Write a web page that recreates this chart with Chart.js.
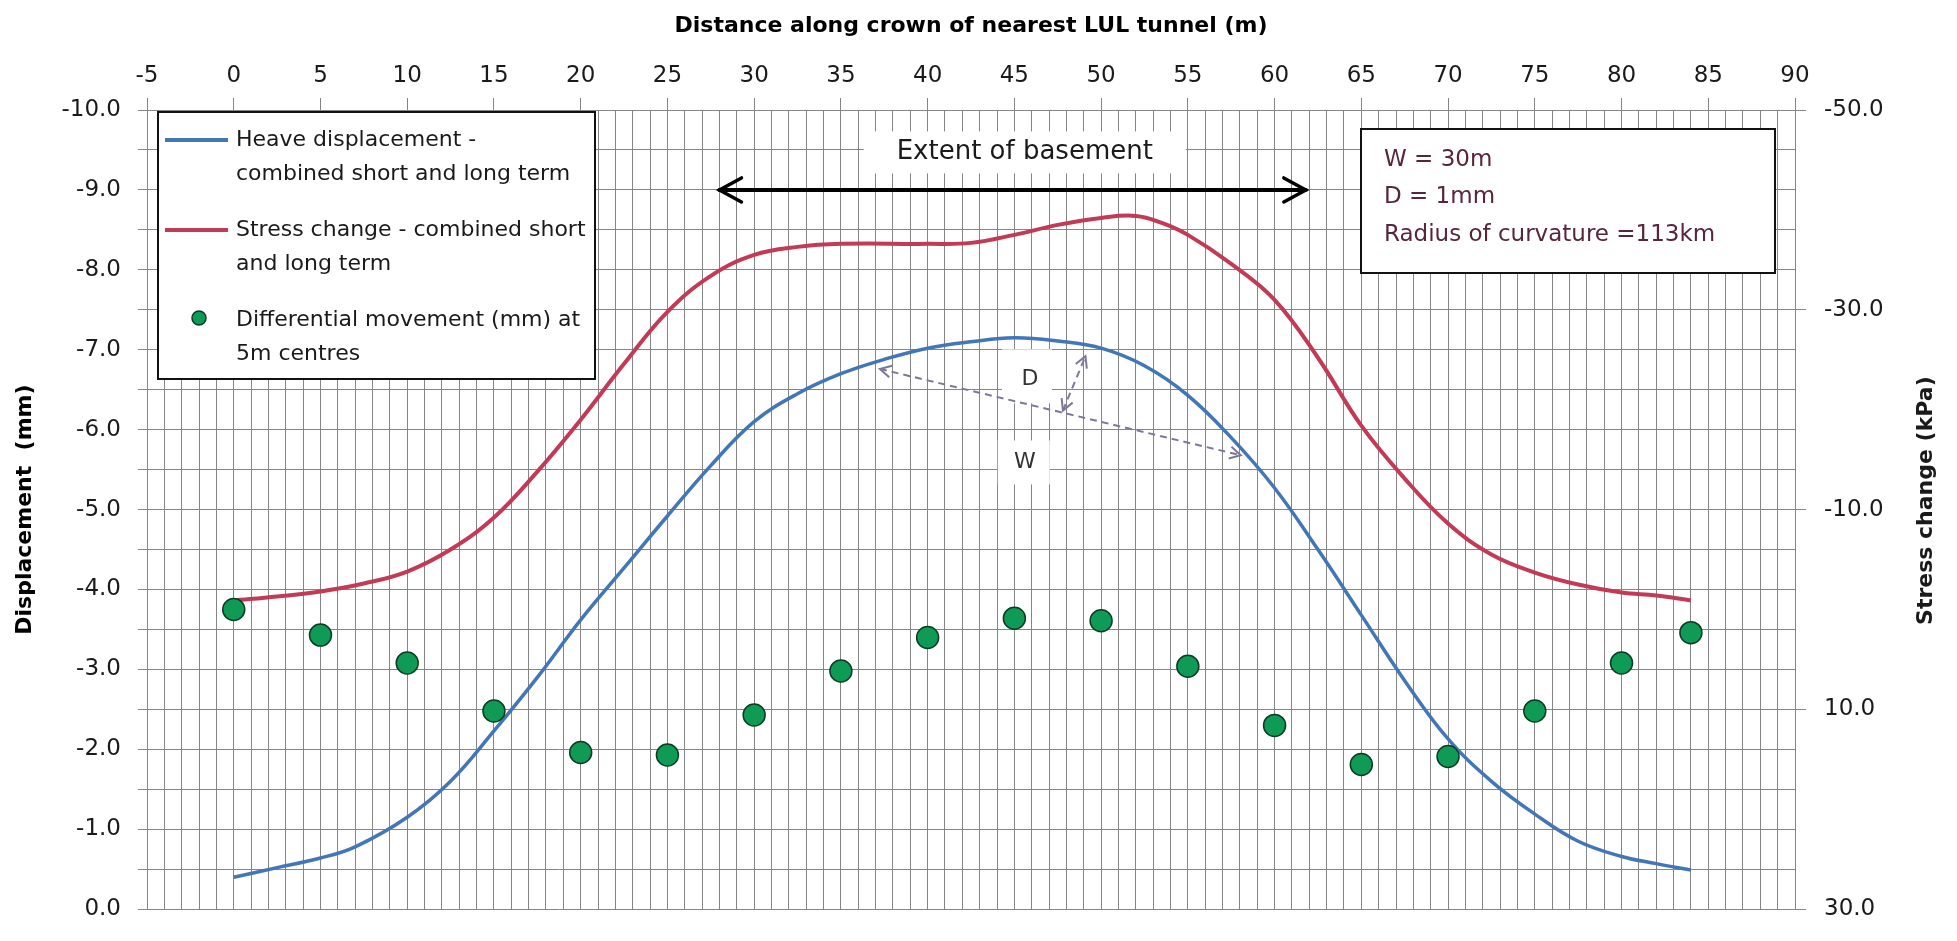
<!DOCTYPE html>
<html>
<head>
<meta charset="utf-8">
<script src="https://cdn.jsdelivr.net/npm/chart.js@4.4.1/dist/chart.umd.min.js"></script>
<style>
html,body{margin:0;padding:0;background:#ffffff;}
#wrap{width:1957px;height:941px;position:relative;}
canvas{display:block;}
</style>
</head>
<body>
<div id="wrap"><canvas id="c" width="1957" height="941"></canvas></div>
<script>
// ---------------- DATA ----------------
const heaveX = [0, 2.5, 5, 7, 10, 12.5, 15, 17.5, 20, 22.5, 25, 27.5, 30, 32.5, 35, 37.5, 40, 42.5, 45, 47.5, 50, 52.5, 55, 57.5, 60, 62.5, 65, 67.5, 70, 72.5, 75, 77.5, 80, 82, 84];
const heaveY = [-0.40, -0.52, -0.64, -0.78, -1.15, -1.60, -2.23, -2.90, -3.62, -4.27, -4.92, -5.55, -6.10, -6.45, -6.70, -6.88, -7.02, -7.10, -7.15, -7.11, -7.02, -6.80, -6.43, -5.90, -5.27, -4.50, -3.68, -2.86, -2.13, -1.60, -1.19, -0.85, -0.66, -0.57, -0.49];

const stressX = [0, 2.5, 5, 7.5, 10, 12.5, 15, 17.5, 20, 22.5, 25, 27.5, 30, 32.5, 35, 40, 42.5, 45, 47.5, 50, 52, 53.5, 55, 57.5, 60, 62.5, 65, 67.5, 70, 72.5, 75, 77.5, 80, 82, 84];
const stressY = [-0.9, -1.3, -1.8, -2.6, -3.8, -6.0, -9.2, -13.8, -19.0, -24.6, -29.8, -33.4, -35.5, -36.3, -36.6, -36.6, -36.7, -37.5, -38.5, -39.2, -39.4, -38.7, -37.5, -34.6, -31.0, -25.2, -18.4, -13.1, -8.6, -5.5, -3.7, -2.5, -1.7, -1.4, -0.9];

const diffX = [0, 5, 10, 15, 20, 25, 30, 35, 40, 45, 50, 55, 60, 65, 70, 75, 80, 84];
const diffY = [-3.75, -3.43, -3.08, -2.48, -1.96, -1.93, -2.43, -2.98, -3.40, -3.64, -3.61, -3.04, -2.30, -1.81, -1.91, -2.48, -3.08, -3.46];

const seriesLabels = [
  'Heave displacement -\ncombined short and long term',
  'Stress change - combined short\nand long term',
  'Differential movement (mm) at\n5m centres'
];

const xAxisTitle = 'Distance along crown of nearest LUL tunnel (m)';
const yAxisTitle = 'Displacement  (mm)';
const y2AxisTitle = 'Stress change (kPa)';

const xRange = [-5, 90];
const dispRange = [-10, 0];
const stressRange = [-50, 30];
const xLabelEvery = 5;
const dispLabelEvery = 1;
const stressStep = 20;

const infoLines = ['W = 30m', 'D = 1mm', 'Radius of curvature =113km'];
const basementText = 'Extent of basement';

// annotation anchor positions in data units (x, displacement)
const basementArrow = {x1: 28.0, x2: 61.8, y: -9.0};
const basementLabel = {x: 45.6, y: -9.47};
const wArrow = {x1: 37.25, y1: -6.76, x2: 58.05, y2: -5.68};
const dArrow = {x1: 47.8, y1: -6.24, x2: 49.1, y2: -6.92};
const dLabel = {x: 45.9, y: -6.63, text: 'D'};
const wLabel = {x: 45.6, y: -5.59, text: 'W'};

// ---------------- STYLE ----------------
const FONT = "'DejaVu Sans', sans-serif";
const BLUE = '#4276b6';
const RED = '#c23a55';
const GREEN = '#0f9a55';
const GREEN_EDGE = '#0b3d22';
const GRID = '#858585';
const TEXT = '#1a1a1a';
const INFO_TEXT = '#57263c';
const DASH = '#7d7897';

function pts(xs, ys) { return xs.map((x, i) => ({x: x, y: ys[i]})); }

function chevron(ctx, tx, ty, fx, fy, len, half) {
  const a = Math.atan2(ty - fy, tx - fx);
  const bx = tx - len * Math.cos(a), by = ty - len * Math.sin(a);
  const nx = -Math.sin(a) * half, ny = Math.cos(a) * half;
  ctx.beginPath();
  ctx.moveTo(bx + nx, by + ny);
  ctx.lineTo(tx, ty);
  ctx.lineTo(bx - nx, by - ny);
  ctx.stroke();
}

const decorPlugin = {
  id: 'decor',
  afterDatasetsDraw(chart) {
    const ctx = chart.ctx;
    const ca = chart.chartArea;
    const xs = chart.scales.x, ys = chart.scales.y;
    const px = v => xs.getPixelForValue(v);
    const py = v => ys.getPixelForValue(v);
    ctx.save();

    // ---- legend box ----
    const lx = ca.left + 11, ly = ca.top + 2, lw = 437, lh = 267;
    ctx.fillStyle = '#ffffff';
    ctx.fillRect(lx, ly, lw, lh);
    ctx.strokeStyle = '#111111';
    ctx.lineWidth = 2;
    ctx.strokeRect(lx, ly, lw, lh);
    ctx.font = '22px ' + FONT;
    ctx.textBaseline = 'middle';
    ctx.textAlign = 'left';
    const rowY = [ly + 28, ly + 118, ly + 208];
    chart.data.datasets.forEach((ds, i) => {
      const y0 = rowY[i];
      if (ds.showLine) {
        ctx.strokeStyle = ds.borderColor;
        ctx.lineWidth = 4;
        ctx.beginPath();
        ctx.moveTo(lx + 7, y0);
        ctx.lineTo(lx + 70, y0);
        ctx.stroke();
      } else {
        ctx.fillStyle = ds.backgroundColor;
        ctx.strokeStyle = ds.borderColor;
        ctx.lineWidth = 1.5;
        ctx.beginPath();
        ctx.arc(lx + 41, y0 - 2, 7, 0, Math.PI * 2);
        ctx.fill();
        ctx.stroke();
      }
      ctx.fillStyle = TEXT;
      ds.label.split('\n').forEach((t, k) => ctx.fillText(t, lx + 78, y0 + k * 34));
    });

    // ---- info box ----
    const bx = ca.right - 434, by = ca.top + 19, bw = 414, bh = 144;
    ctx.fillStyle = '#ffffff';
    ctx.fillRect(bx, by, bw, bh);
    ctx.strokeStyle = '#111111';
    ctx.lineWidth = 2;
    ctx.strokeRect(bx, by, bw, bh);
    ctx.fillStyle = INFO_TEXT;
    ctx.font = '23px ' + FONT;
    infoLines.forEach((t, k) => ctx.fillText(t, bx + 23, by + 31 + k * 37.5));

    // ---- extent of basement ----
    const ex = px(basementLabel.x), ey = py(basementLabel.y);
    ctx.fillStyle = '#ffffff';
    ctx.fillRect(ex - 161, ey - 21, 322, 42);
    ctx.fillStyle = TEXT;
    ctx.font = '26px ' + FONT;
    ctx.textAlign = 'center';
    ctx.fillText(basementText, ex, ey);
    const ax1 = px(basementArrow.x1), ax2 = px(basementArrow.x2), ay = py(basementArrow.y);
    ctx.strokeStyle = '#000000';
    ctx.lineWidth = 4;
    ctx.lineCap = 'round';
    ctx.beginPath();
    ctx.moveTo(ax1, ay);
    ctx.lineTo(ax2, ay);
    ctx.stroke();
    ctx.lineWidth = 3.5;
    chevron(ctx, ax1, ay, ax2, ay, 22, 12);
    chevron(ctx, ax2, ay, ax1, ay, 22, 12);

    // ---- D / W labels with white backgrounds ----
    const dx = px(dLabel.x), dy = py(dLabel.y);
    ctx.fillStyle = '#ffffff';
    ctx.fillRect(dx - 28, dy - 30, 50, 54);
    const wx = px(wLabel.x), wy = py(wLabel.y);
    ctx.fillRect(wx - 27, wy - 22, 52, 44);
    ctx.fillStyle = '#333333';
    ctx.font = '22px ' + FONT;
    ctx.fillText(dLabel.text, dx, dy);
    ctx.fillText(wLabel.text, wx, wy);

    // ---- dashed dimension arrows ----
    ctx.strokeStyle = DASH;
    ctx.lineWidth = 2;
    ctx.lineCap = 'butt';
    const drawDim = (a) => {
      const x1 = px(a.x1), y1 = py(a.y1), x2 = px(a.x2), y2 = py(a.y2);
      ctx.setLineDash([7, 5]);
      ctx.beginPath();
      ctx.moveTo(x1, y1);
      ctx.lineTo(x2, y2);
      ctx.stroke();
      ctx.setLineDash([]);
      chevron(ctx, x1, y1, x2, y2, 11, 6);
      chevron(ctx, x2, y2, x1, y1, 11, 6);
    };
    drawDim(wArrow);
    drawDim(dArrow);

    // ---- right axis title (reads bottom to top) ----
    ctx.save();
    ctx.translate(1926, (ca.top + ca.bottom) / 2 - 9);
    ctx.rotate(-Math.PI / 2);
    ctx.fillStyle = TEXT;
    ctx.font = 'bold 22px ' + FONT;
    ctx.textAlign = 'center';
    ctx.textBaseline = 'middle';
    ctx.fillText(y2AxisTitle, 0, 0);
    ctx.restore();

    ctx.restore();
  }
};

const tickFont = {family: FONT, size: 23};

new Chart(document.getElementById('c'), {
  type: 'scatter',
  data: {
    datasets: [
      {
        label: seriesLabels[0],
        data: pts(heaveX, heaveY),
        yAxisID: 'y',
        showLine: true,
        borderColor: BLUE,
        backgroundColor: BLUE,
        borderWidth: 3.5,
        pointRadius: 0,
        tension: 0.4,
        order: 2
      },
      {
        label: seriesLabels[1],
        data: pts(stressX, stressY),
        yAxisID: 'y2',
        showLine: true,
        borderColor: RED,
        backgroundColor: RED,
        borderWidth: 4,
        pointRadius: 0,
        tension: 0.4,
        order: 2
      },
      {
        label: seriesLabels[2],
        data: pts(diffX, diffY),
        yAxisID: 'y',
        showLine: false,
        backgroundColor: GREEN,
        borderColor: GREEN_EDGE,
        borderWidth: 1.5,
        pointRadius: 11,
        order: 1
      }
    ]
  },
  options: {
    responsive: false,
    animation: false,
    events: [],
    layout: {padding: {left: 0, right: 0, top: 0, bottom: 14}},
    plugins: {legend: {display: false}, tooltip: {enabled: false}},
    scales: {
      x: {
        type: 'linear',
        position: 'top',
        min: xRange[0],
        max: xRange[1],
        ticks: {
          stepSize: 1,
          autoSkip: false,
          maxRotation: 0,
          padding: 8,
          color: TEXT,
          font: tickFont,
          callback: v => (v % xLabelEvery === 0 ? String(v) : '')
        },
        grid: {
          color: GRID,
          lineWidth: 1,
          tickLength: 12,
          tickColor: c => (c.tick && c.tick.value % xLabelEvery === 0 ? GRID : 'rgba(0,0,0,0)')
        },
        border: {color: GRID, width: 1},
        title: {display: true, text: xAxisTitle, color: '#000', font: {family: FONT, size: 22, weight: 'bold'}, padding: {top: 13, bottom: 0}},
        afterFit: s => { s.height = 110; }
      },
      y: {
        type: 'linear',
        position: 'left',
        min: dispRange[0],
        max: dispRange[1],
        reverse: true,
        ticks: {
          stepSize: 0.5,
          autoSkip: false,
          padding: 17,
          color: TEXT,
          font: tickFont,
          callback: v => (Math.abs(v % dispLabelEvery) < 1e-9 ? v.toFixed(1) : '')
        },
        grid: {color: GRID, lineWidth: 1, tickLength: 9},
        border: {color: GRID, width: 1},
        title: {display: true, text: yAxisTitle, color: '#000', font: {family: FONT, size: 22, weight: 'bold'}, padding: {top: 12, bottom: 0}},
        afterFit: s => { s.width = 147; }
      },
      y2: {
        type: 'linear',
        position: 'right',
        min: stressRange[0],
        max: stressRange[1],
        reverse: true,
        ticks: {
          stepSize: stressStep,
          autoSkip: false,
          padding: 18,
          color: TEXT,
          font: tickFont,
          callback: v => v.toFixed(1)
        },
        grid: {drawOnChartArea: false, color: GRID, tickLength: 11},
        border: {color: GRID, width: 1},
        afterFit: s => { s.width = 162; }
      }
    }
  },
  plugins: [decorPlugin]
});
</script>
</body>
</html>
